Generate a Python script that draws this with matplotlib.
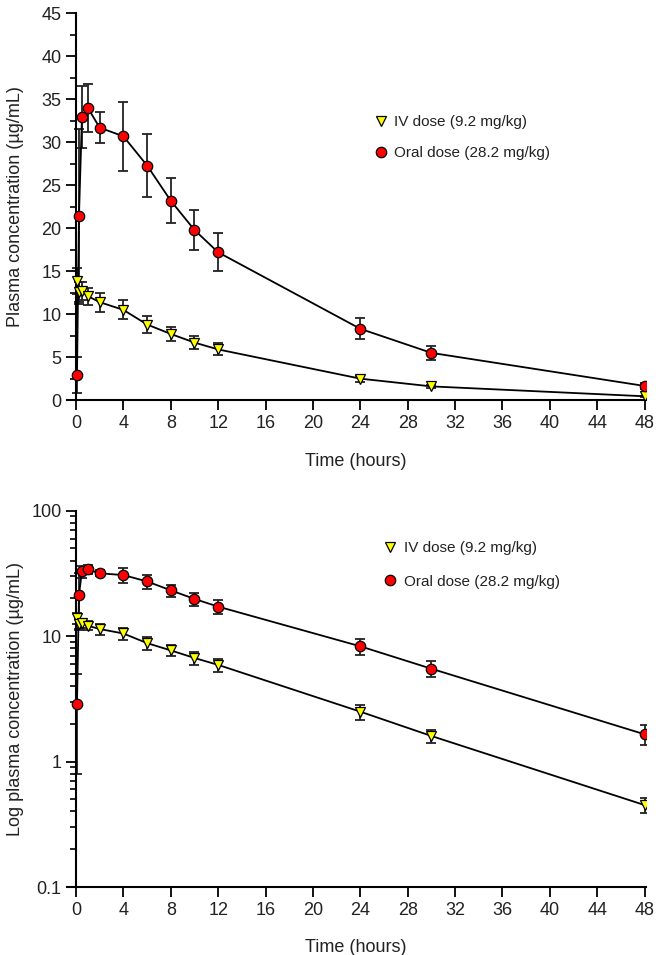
import matplotlib.pyplot as plt
from matplotlib.ticker import MultipleLocator, FixedLocator, FixedFormatter, LogLocator, NullFormatter

plt.rcParams['font.family'] = ['Liberation Sans', 'DejaVu Sans']

# time points (hours)
iv_time = [0.083, 0.25, 0.5, 1, 2, 4, 6, 8, 10, 12, 24, 30, 48]
iv_conc = [13.9, 12.6, 12.7, 12.1, 11.4, 10.5, 8.8, 7.7, 6.7, 5.9, 2.5, 1.6, 0.45]
iv_sd = [1.5, 1.2, 1.1, 1.0, 1.1, 1.1, 1.0, 0.8, 0.8, 0.7, 0.35, 0.2, 0.06]

oral_time = [0.083, 0.25, 0.5, 1, 2, 4, 6, 8, 10, 12, 24, 30, 48]
oral_conc = [2.9, 21.4, 32.9, 34.0, 31.7, 30.7, 27.3, 23.2, 19.8, 17.2, 8.3, 5.5, 1.65]
oral_sd = [2.1, 10.2, 3.6, 2.8, 1.8, 4.0, 3.7, 2.6, 2.3, 2.2, 1.2, 0.8, 0.3]

iv_label = "IV dose (9.2 mg/kg)"
oral_label = "Oral dose (28.2 mg/kg)"

txt = '#222222'

fig = plt.figure(figsize=(6.72, 9.55), dpi=100)
ax1 = fig.add_axes([0.099, 0.581, 0.862, 0.405])
ax2 = fig.add_axes([0.099, 0.0712, 0.862, 0.394])


def draw(ax):
    ax.errorbar(iv_time, iv_conc, yerr=iv_sd, fmt='none', ecolor='#222222',
                elinewidth=1.3, capsize=3.5, capthick=1.3, zorder=2)
    ax.errorbar(oral_time, oral_conc, yerr=oral_sd, fmt='none', ecolor='#222222',
                elinewidth=1.3, capsize=3.5, capthick=1.3, zorder=2)
    ax.plot(iv_time, iv_conc, color='black', lw=1.3, zorder=3)
    ax.plot(oral_time, oral_conc, color='black', lw=1.3, zorder=3)
    ax.plot(iv_time, iv_conc, 'v', ms=7.5, mfc='#ffff00', mec='black', mew=0.9,
            ls='none', zorder=4, label=iv_label)
    ax.plot(oral_time, oral_conc, 'o', ms=7.5, mfc='#ff0000', mec='black', mew=0.9,
            ls='none', zorder=4, label=oral_label)

    ax.set_xlim(-0.8, 48.1)
    ax.spines['left'].set_position(('data', 0))
    ax.spines['top'].set_visible(False)
    ax.spines['right'].set_visible(False)
    for s in ('left', 'bottom'):
        ax.spines[s].set_linewidth(1.5)
    ax.xaxis.set_major_locator(MultipleLocator(4))
    ax.tick_params(which='major', length=7, width=1.3, labelsize=13, labelcolor=txt)
    ax.tick_params(which='minor', length=4, width=1.2)
    ax.set_xlabel("Time (hours)", fontsize=13, labelpad=15, color=txt)


draw(ax1)
ax1.set_ylim(0, 45)
ax1.yaxis.set_major_locator(MultipleLocator(5))
ax1.yaxis.set_minor_locator(MultipleLocator(2.5))
ax1.set_ylabel("Plasma concentration (µg/mL)", fontsize=13, color=txt)
ax1.yaxis.set_label_coords(-0.073, 0.5)
ax1.legend(loc='upper left', bbox_to_anchor=(0.508, 0.772), frameon=False,
           fontsize=11, handlelength=0.8, handletextpad=0.5, labelspacing=1.1,
           labelcolor=txt)

draw(ax2)
ax2.set_yscale('log')
ax2.set_ylim(0.1, 100)
ax2.yaxis.set_major_locator(FixedLocator([0.1, 1, 10, 100]))
ax2.yaxis.set_major_formatter(FixedFormatter(["0.1", "1", "10", "100"]))
ax2.yaxis.set_minor_locator(LogLocator(base=10, subs=range(2, 10)))
ax2.yaxis.set_minor_formatter(NullFormatter())
ax2.set_ylabel("Log plasma concentration (µg/mL)", fontsize=13, color=txt)
ax2.yaxis.set_label_coords(-0.073, 0.5)
ax2.legend(loc='upper left', bbox_to_anchor=(0.524, 0.955), frameon=False,
           fontsize=11, handlelength=0.8, handletextpad=0.5, labelspacing=1.25,
           labelcolor=txt)

fig.savefig("out.png", dpi=100)
